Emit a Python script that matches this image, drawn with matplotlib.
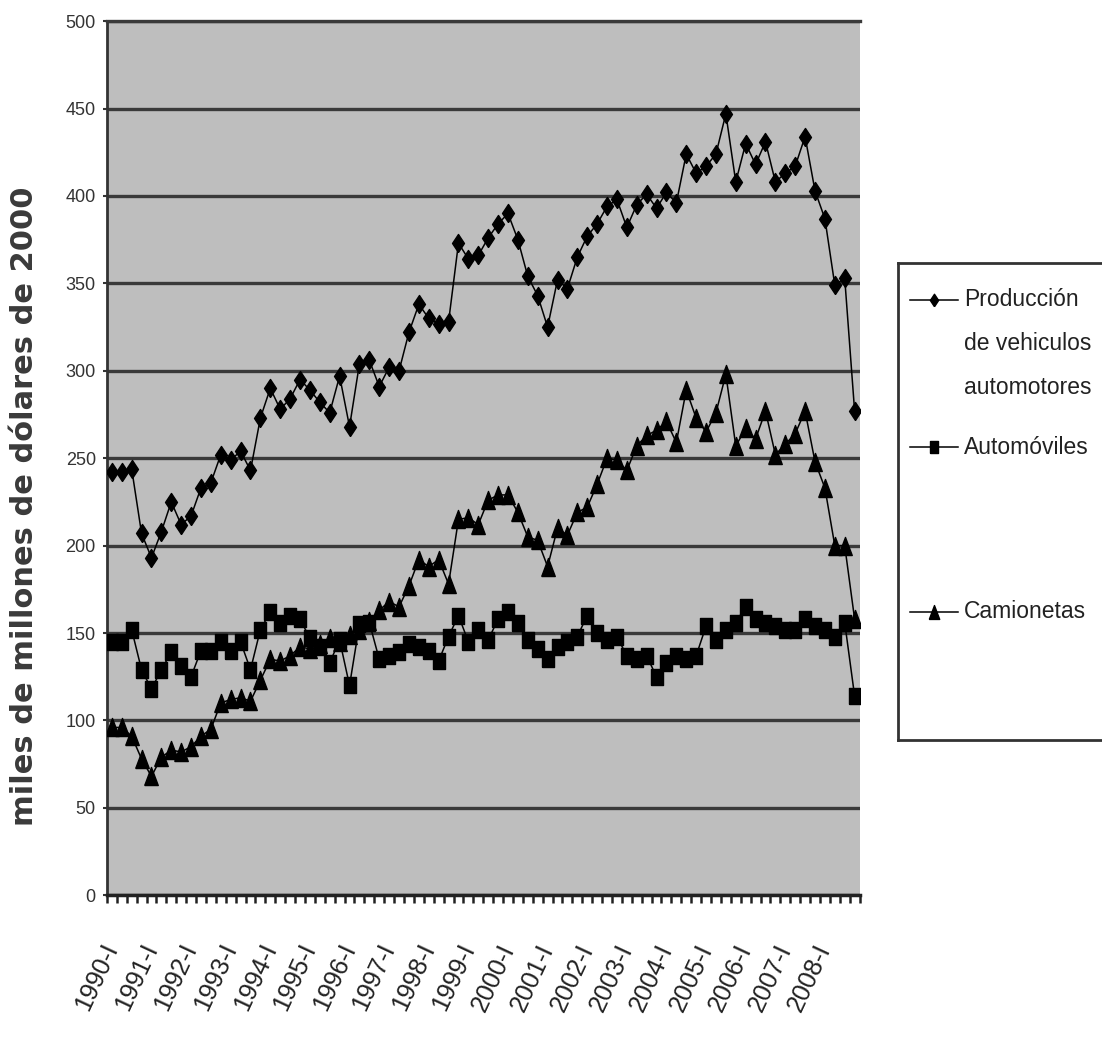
import matplotlib
matplotlib.use('Agg')
import matplotlib.pyplot as plt
import numpy as np

# quarterly series, 1990-I .. 2008-IV (miles de millones de dólares de 2000)
produccion = [242, 242, 244, 207, 193, 208, 225, 212, 217, 233,
              236, 252, 249, 254, 243, 273, 290, 278, 284, 295,
              289, 282, 276, 297, 268, 304, 306, 291, 302, 300,
              322, 338, 330, 327, 328, 373, 364, 366, 376, 384,
              390, 375, 354, 343, 325, 352, 347, 365, 377, 384,
              394, 398, 382, 395, 401, 393, 402, 396, 424, 413,
              417, 424, 447, 408, 430, 418, 431, 408, 413, 417,
              434, 403, 387, 349, 353, 277]
automoviles = [145, 145, 152, 129, 118, 129, 139, 131, 125, 140,
               140, 145, 140, 145, 129, 152, 162, 156, 160, 158,
               147, 142, 133, 146, 120, 155, 156, 135, 137, 139,
               144, 142, 140, 134, 148, 160, 145, 152, 146, 158,
               162, 156, 146, 141, 135, 142, 145, 148, 160, 150,
               146, 148, 137, 135, 137, 125, 133, 137, 135, 137,
               154, 146, 152, 156, 165, 158, 156, 154, 152, 152,
               158, 154, 152, 148, 156, 114]
camionetas = [96, 96, 91, 78, 68, 79, 83, 82, 85, 91,
              95, 110, 112, 113, 111, 123, 135, 134, 137, 142,
              141, 144, 147, 145, 149, 152, 157, 163, 168, 165,
              177, 192, 188, 192, 178, 215, 216, 212, 226, 229,
              229, 219, 205, 203, 188, 210, 206, 219, 222, 235,
              250, 249, 243, 257, 263, 266, 271, 259, 289, 273,
              265, 276, 298, 257, 267, 261, 277, 252, 258, 264,
              277, 248, 233, 200, 200, 158]
year_labels = ['1990-I', '1991-I', '1992-I', '1993-I', '1994-I', '1995-I',
               '1996-I', '1997-I', '1998-I', '1999-I', '2000-I', '2001-I',
               '2002-I', '2003-I', '2004-I', '2005-I', '2006-I', '2007-I',
               '2008-I']
legend_labels = ['Producción', 'de vehiculos', 'automotores',
                 'Automóviles', 'Camionetas']

sans = ['Liberation Sans', 'DejaVu Sans']

# tall, narrow marker shapes
diamond = [(0, -1), (0.66, 0), (0, 1), (-0.66, 0), (0, -1)]
square = [(-0.7, -1), (0.7, -1), (0.7, 1), (-0.7, 1), (-0.7, -1)]
triangle = [(-0.75, -1), (0.75, -1), (0, 1), (-0.75, -1)]

fig = plt.figure(figsize=(11.02, 10.57), dpi=100)
ax = fig.add_axes([0.097, 0.153, 0.683, 0.827])

x = np.arange(len(produccion))
ax.set_xlim(-0.5, len(x) - 0.5)
ax.set_ylim(0, 500)
ax.set_facecolor('#bebebe')
ax.grid(axis='y', color='#3a3a3a', lw=2.4)
ax.set_axisbelow(True)

ax.plot(x, produccion, color='k', lw=1.1, marker=diamond, ms=13, zorder=3)
ax.plot(x, automoviles, color='k', lw=1.1, marker=square, ms=12, zorder=3)
ax.plot(x, camionetas, color='k', lw=1.1, marker=triangle, ms=13, zorder=3)

ax.spines['right'].set_visible(False)
ax.spines['top'].set_color('#3a3a3a')
ax.spines['top'].set_linewidth(2.4)
ax.spines['left'].set_color('#333333')
ax.spines['left'].set_linewidth(2)
ax.spines['bottom'].set_color('#222222')
ax.spines['bottom'].set_linewidth(2.5)

ax.set_yticks(range(0, 501, 50))
ax.tick_params(axis='y', length=3, width=1.5, pad=5, labelsize=13,
               colors='#333333')
for lab in ax.get_yticklabels():
    lab.set_family(sans)

ax.set_xticks(x[::4])
ax.set_xticklabels(year_labels)
ax.set_xticks(np.arange(-0.5, len(x)), minor=True)
ax.tick_params(axis='x', which='major', length=0, pad=36, labelsize=18,
               colors='#222222')
ax.tick_params(axis='x', which='minor', length=6, width=1.8, color='#222222')
for lab in ax.get_xticklabels():
    lab.set_family(sans)
    lab.set_rotation(65)
    lab.set_ha('right')
    lab.set_va('center')
    lab.set_rotation_mode('anchor')

fig.text(0.022, 0.521, 'miles de millones de dólares de 2000', rotation=90,
         fontsize=22, fontweight='bold', color='#3a3a3a',
         ha='center', va='center')

# legend box on the right
lax = fig.add_axes([898 / 1102, 1 - 740 / 1057, 210 / 1102, 477 / 1057])
lax.set_xlim(0, 210)
lax.set_ylim(477, 0)
lax.set_xticks([])
lax.set_yticks([])
for sp in lax.spines.values():
    sp.set_color('#333333')
    sp.set_linewidth(2)

rows = [37, 80, 124, 184, 349]
handles = [(rows[0], diamond, 9), (rows[3], square, 9), (rows[4], triangle, 10)]
for yy, mk, ms in handles:
    lax.plot([12, 60], [yy, yy], color='k', lw=1.1)
    lax.plot([36], [yy], color='k', marker=mk, ms=ms)
for yy, txt in zip(rows, legend_labels):
    lax.text(66, yy, txt, fontsize=16.5, family=sans, color='#222222',
             va='center', ha='left')

fig.savefig('out.png', dpi=100)
